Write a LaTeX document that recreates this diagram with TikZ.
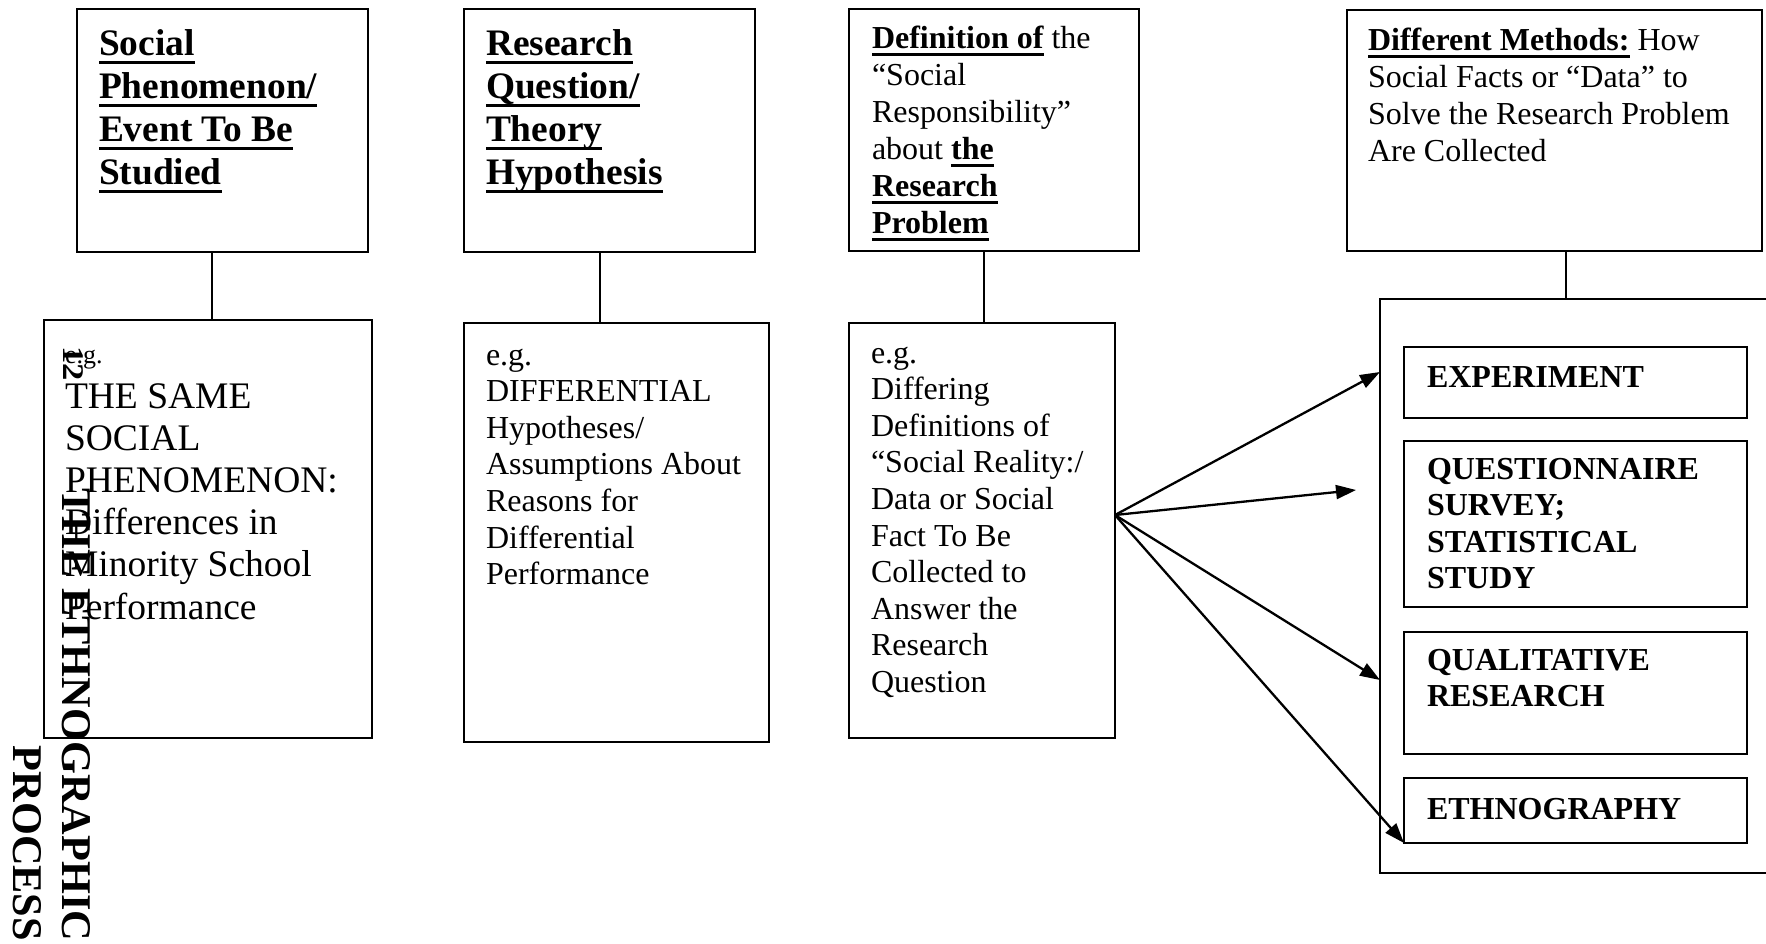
\documentclass[tikz,border=0pt]{standalone}
\usepackage{fontspec}
\setmainfont{Liberation Serif}
\usepackage{graphicx}
\usetikzlibrary{arrows.meta}

% underlined text: a heavy rule under the whole box
\newcommand\uln[1]{\setbox0\hbox{#1}\rlap{\rule[-0.25em]{\wd0}{0.09em}}\box0\relax}
% stacked lines whose baseline is the first line
\newcommand\lines[1]{\begin{tabular}[t]{@{}l@{}}#1\end{tabular}}
\newcommand\rlines[1]{\begin{tabular}[t]{@{}r@{}}#1\end{tabular}}

\begin{document}
\begin{tikzpicture}[x=1pt,y=-1pt,
  box/.style={draw, line width=2.3pt, anchor=north west, inner sep=0pt, outer sep=0pt},
  txt/.style={anchor=base west, inner sep=0pt, outer sep=0pt},
  headbig/.style={font={\fontsize{37.4}{43}\selectfont\bfseries}},
  headsmall/.style={font={\fontsize{32}{37}\selectfont}},
  body/.style={font={\fontsize{32}{36.6}\selectfont}},
  method/.style={font={\fontsize{32}{36.6}\selectfont\bfseries}},
  link/.style={line width=2.3pt},
  arr/.style={line width=2.3pt, -{Triangle[length=20pt,width=14pt]}}]

\useasboundingbox (0,0) rectangle (1766,943);
\clip (0,0) rectangle (1766,943);
\fill[white] (0,0) rectangle (1766,943);

% upper row of boxes
\node[box, minimum width=291pt, minimum height=243pt] (a1) at (77,9) {};
\node[box, minimum width=291pt, minimum height=243pt] (a2) at (464,9) {};
\node[box, minimum width=290pt, minimum height=242pt] (a3) at (849,9) {};
\node[box, minimum width=415pt, minimum height=241pt] (a4) at (1347,10) {};

% lower row of boxes
\node[box, minimum width=328pt, minimum height=418pt] (b1) at (44,320) {};
\node[box, minimum width=305pt, minimum height=419pt] (b2) at (464,323) {};
\node[box, minimum width=266pt, minimum height=415pt] (b3) at (849,323) {};

% container of the methods
\node[box, minimum width=420pt, minimum height=574pt] (cont) at (1380,299) {};
\node[box, minimum width=343pt, minimum height=71pt] (m1) at (1404,347) {};
\node[box, minimum width=343pt, minimum height=166pt] (m2) at (1404,441) {};
\node[box, minimum width=343pt, minimum height=122pt] (m3) at (1404,632) {};
\node[box, minimum width=343pt, minimum height=65pt] (m4) at (1404,778) {};

% vertical links
\coordinate (k1) at (212,0);
\coordinate (k2) at (600,0);
\coordinate (k3) at (984,0);
\coordinate (k4) at (1566,0);
\draw[link] (a1.south -| k1) -- (b1.north -| k1);
\draw[link] (a2.south -| k2) -- (b2.north -| k2);
\draw[link] (a3.south -| k3) -- (b3.north -| k3);
\draw[link] (a4.south -| k4) -- (cont.north -| k4);

% fan of arrows
\path (b3.north east) ++(0,192) coordinate (src);
\path (cont.north west) ++(0,73) coordinate (t1);
\coordinate (t2) at (1356,490);
\path (cont.north west) ++(0,381) coordinate (t3);
\draw[arr] (src) -- (t1);
\draw[arr] (src) -- (t2);
\draw[arr] (src) -- (t3);
\draw[arr] (src) -- (m4.south west);

% headings
\node[txt, headbig] (a1t) at (99,55)
  {\lines{\uln{Social}\\\uln{Phenomenon/}\\\uln{Event To Be}\\\uln{Studied}}};
\node[txt, headbig] (a2t) at (486,55)
  {\lines{\uln{Research}\\\uln{Question/}\\\uln{Theory}\\\uln{Hypothesis}}};
\node[txt, headsmall] (a3t) at (872,48)
  {\lines{\uln{\bfseries Definition of} the\\“Social\\Responsibility”\\about \uln{\bfseries the}\\\uln{\bfseries Research}\\\uln{\bfseries Problem}}};
\node[txt, headsmall] (a4t) at (1368,50)
  {\lines{\uln{\bfseries Different Methods:} How\\Social Facts or “Data” to\\Solve the Research Problem\\Are Collected}};

% examples
\node[txt, font={\fontsize{26}{26}\selectfont}] (b1eg) at (65,363) {e.g.};
\node[txt, font={\fontsize{37.5}{42.2}\selectfont}] (b1t) at (65,408)
  {\lines{THE SAME\\SOCIAL\\PHENOMENON:\\Differences in\\Minority School\\Performance}};
\node[txt, body] (b2t) at (486,365)
  {\lines{e.g.\\DIFFERENTIAL\\Hypotheses/\\Assumptions About\\Reasons for\\Differential\\Performance}};
\node[txt, body] (b3t) at (871,363)
  {\lines{e.g.\\Differing\\Definitions of\\“Social Reality:/\\Data or Social\\Fact To Be\\Collected to\\Answer the\\Research\\Question}};

% methods
\node[txt, method] (m1t) at (1427,387) {EXPERIMENT};
\node[txt, method] (m2t) at (1427,479) {\lines{QUESTIONNAIRE\\SURVEY;\\STATISTICAL\\STUDY}};
\node[txt, method] (m3t) at (1427,670) {\lines{QUALITATIVE\\RESEARCH}};
\node[txt, method] (m4t) at (1427,819) {ETHNOGRAPHY};

% sideways title and page number
\node[rotate=-90, anchor=base east, inner sep=0pt, outer sep=0pt,
      font={\fontsize{42.3}{49}\selectfont\bfseries}] (title) at (62,941)
  {\rlines{THE ETHNOGRAPHIC\\PROCESS}};
\node[rotate=-90, anchor=base west, inner sep=0pt, outer sep=0pt,
      font={\fontsize{30}{30}\selectfont\bfseries}] (pageno) at (63,346)
  {\scalebox{1.15}[1]{12}};
\end{tikzpicture}
\end{document}
